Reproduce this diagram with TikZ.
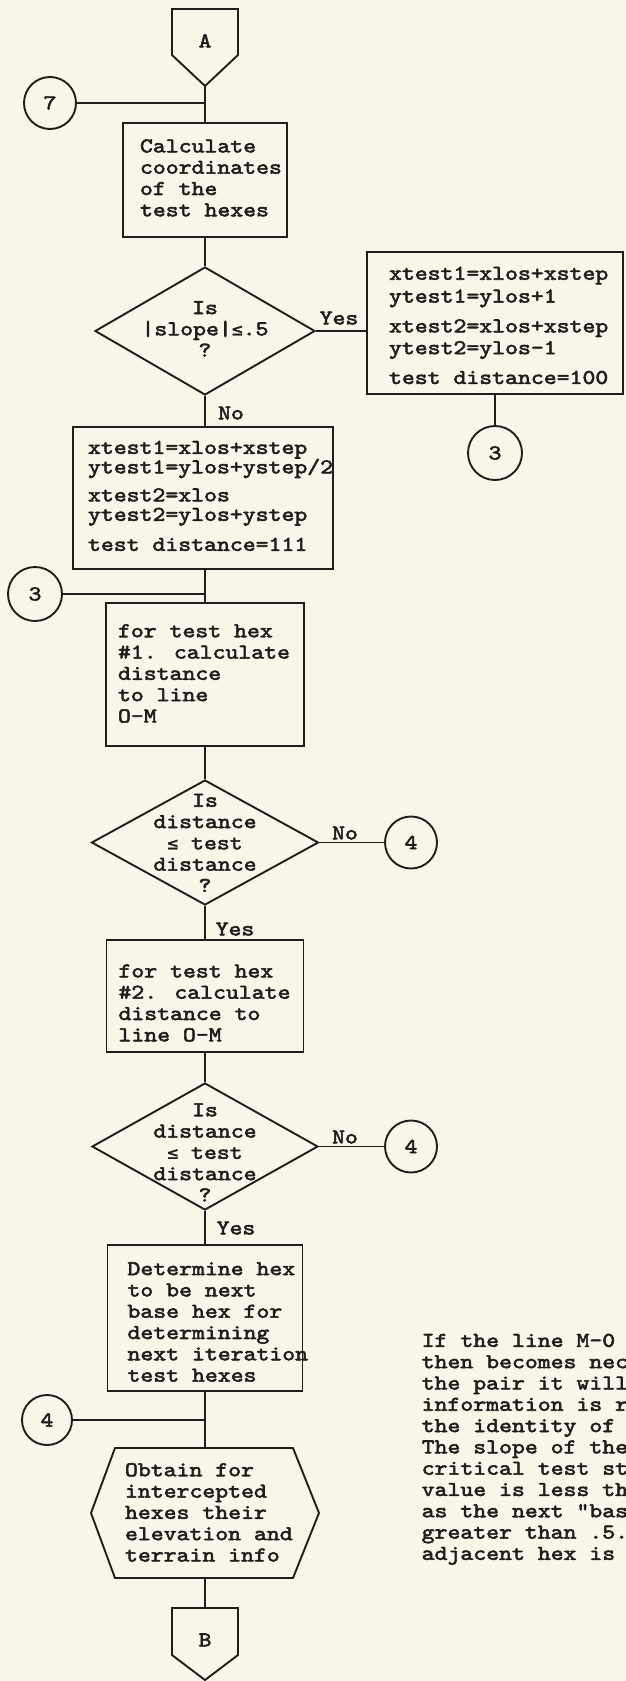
\documentclass[tikz,border=0pt]{standalone}
\usepackage{fontspec}
\usetikzlibrary{shapes.geometric}
\newfontfamily\twfam{lmmono10-regular.otf}[FakeStretch=1.17,FakeBold=2.6]
\newfontfamily\symfam{DejaVu Sans Mono}[FakeBold=1.2]
\newcommand\tw{\twfam\fontsize{21}{21.3}\selectfont}
% left-aligned text block of given width, smashed, centred on node centre (+ optional raise)
\newcommand\boxtxt[3][0pt]{\smash{\raisebox{\dimexpr #1-5.25pt\relax}{\makebox[#2][l]{\begin{tabular}{@{}l@{}}#3\end{tabular}}}}}
\newcommand\ctrtxt[2][0pt]{\smash{\raisebox{\dimexpr #1-5.25pt\relax}{\begin{tabular}{@{}c@{}}#2\end{tabular}}}}
\newcommand\lesym{{\symfam\fontsize{18}{21.3}\selectfont ≤}}
\definecolor{bg}{RGB}{248,246,233}
\definecolor{ink}{RGB}{32,30,28}
\tikzset{
  ln/.style={draw=ink, line width=1.9pt},
  boxn/.style={draw=ink, line width=1.9pt, rectangle, inner sep=0pt, font=\tw, text=ink},
  dia/.style={draw=ink, line width=1.9pt, diamond, inner sep=0pt, font=\tw, text=ink},
  conn/.style={draw=ink, line width=1.9pt, circle, inner sep=0pt, font=\tw, text=ink},
  ghost/.style={rectangle, inner sep=0pt, outer sep=0pt, font=\tw, text=ink},
  lbl/.style={inner sep=0pt, font=\tw, text=ink},
}
\begin{document}
\begin{tikzpicture}[x=1pt,y=-1pt]
\useasboundingbox (0,0) rectangle (626,1681);
\fill[bg] (0,0) rectangle (626,1681);

% off-page connector A
\node[ghost, minimum width=66, minimum height=77] (A) at (205,47.5) {\ctrtxt[4.5pt]{A}};
\draw[ln, line join=miter] (A.north west) -- (A.north east) -- ([yshift=31pt]A.south east) -- (A.south) -- ([yshift=31pt]A.south west) -- cycle;

\node[conn, minimum size=52] (c7) at (50,103) {7};

\node[boxn, minimum width=164, minimum height=114] (b1) at (205,180)
  {\boxtxt{130pt}{Calculate\\coordinates\\of the\\test hexes}};

\node[dia, minimum width=220, minimum height=128] (d1) at (205,331)
  {\ctrtxt{Is\\|slope|\lesym.5\\?}};

\node[boxn, minimum width=256, minimum height=142] (R) at (495,323)
  {\boxtxt[-4.5pt]{212pt}{xtest1=xlos+xstep\\[1.5pt]ytest1=ylos+1\\[8.5pt]xtest2=xlos+xstep\\[0.5pt]ytest2=ylos-1\\[8.5pt]test distance=100}};

\node[conn, minimum size=54] (c3r) at (495,453) {3};

\node[boxn, minimum width=260, minimum height=142] (b2) at (203,498)
  {\boxtxt{230pt}{xtest1=xlos+xstep\\[-1.8pt]ytest1=ylos+ystep/2\\[6.7pt]xtest2=xlos\\[-1.8pt]ytest2=ylos+ystep\\[8.7pt]test distance=111}};

\node[conn, minimum size=54] (c3l) at (35,594) {3};

\node[boxn, minimum width=198, minimum height=143] (b3) at (205,674.5)
  {\boxtxt[-1pt]{174pt}{for test hex\\\#1. calculate\\distance\\to line\\O-M}};

\node[dia, minimum width=227, minimum height=125] (d2) at (205,842.5)
  {\ctrtxt[-2.5pt]{Is\\distance\\\lesym\ test\\distance\\?}};

\node[conn, minimum size=52] (c4a) at (411,842.5) {4};

\node[boxn, minimum width=197, minimum height=112] (b4) at (205,996)
  {\boxtxt[-9pt]{173pt}{for test hex\\\#2. calculate\\distance to\\line O-M}};

\node[dia, minimum width=226, minimum height=127] (d3) at (205,1146.5)
  {\ctrtxt[-8pt]{Is\\distance\\\lesym\ test\\distance\\?}};

\node[conn, minimum size=52] (c4b) at (411,1146.5) {4};

\node[boxn, minimum width=195, minimum height=146] (b5) at (205,1318)
  {\boxtxt[-6pt]{155pt}{Determine hex\\to be next\\base hex for\\determining\\next iteration\\test hexes}};

\node[conn, minimum size=50] (c4c) at (47,1420) {4};

% preparation (hexagon)
\node[ghost, minimum width=178, minimum height=130] (hx) at (204,1513)
  {\boxtxt[-1.5pt]{158pt}{Obtain for\\intercepted\\hexes their\\elevation and\\terrain info}};
\draw[ln, line join=miter] (hx.north west) -- (hx.north east) -- ([xshift=26pt]hx.east) -- (hx.south east) -- (hx.south west) -- ([xshift=-24pt]hx.west) -- cycle;

% off-page connector B
\node[ghost, minimum width=66, minimum height=72] (B) at (205,1644) {\ctrtxt[2pt]{B}};
\draw[ln, line join=miter] (B.north west) -- (B.north east) -- ([yshift=25pt]B.south east) -- (B.south) -- ([yshift=25pt]B.south west) -- cycle;

% labels
\node[lbl] (yes1) at (339,318) {Yes};
\node[lbl] (no1) at (231,413) {No};
\node[lbl] (no2) at (345,833) {No};
\node[lbl] (yes2) at (235,929) {Yes};
\node[lbl] (no3) at (345,1137) {No};
\node[lbl] (yes3) at (236,1228) {Yes};

% connectors
\draw[ln] (A.south) -- (b1.north);
\draw[ln] (c7.east) -- (c7.east -| b1.north);
\draw[ln] (b1.south) -- (d1.north);
\draw[ln] (d1.east) -- (d1.east -| R.west);
\draw[ln] (R.south) -- (c3r.north);
\draw[ln] (d1.south) -- (d1.south |- b2.north);
\draw[ln] (d1.south |- b2.south) -- (b3.north);
\draw[ln] (c3l.east) -- (c3l.east -| b3.north);
\draw[ln] (b3.south) -- (d2.north);
\draw[ln] (d2.east) -- (c4a.west);
\draw[ln] (d2.south) -- (b4.north);
\draw[ln] (b4.south) -- (d3.north);
\draw[ln] (d3.east) -- (c4b.west);
\draw[ln] (d3.south) -- (b5.north);
\draw[ln] (b5.south) -- (b5.south |- hx.north);
\draw[ln] (c4c.east) -- (c4c.east -| b5.south);
\draw[ln] (b5.south |- hx.south) -- (B.north);

% side note (cut off by the page edge)
\begin{scope}
\clip (0,0) rectangle (626,1681);
\node[lbl, anchor=west] (note) at (421,1449)
  {\boxtxt{0pt}{If the line M-0\\then becomes nec\\the pair it will\\information is r\\the identity of\\The slope of the\\critical test st\\value is less th\\as the next "bas\\greater than .5.\\adjacent hex is}};
\end{scope}
\end{tikzpicture}
\end{document}
